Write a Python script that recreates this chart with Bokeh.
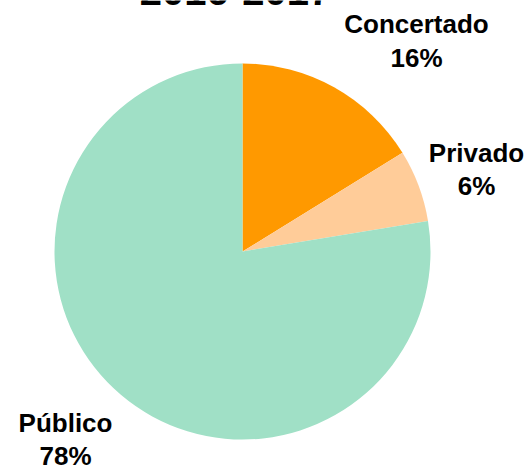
import numpy as np
from bokeh.plotting import figure
from bokeh.models import Range1d, ColumnDataSource
from bokeh.core.properties import value
from bokeh.embed import file_html
from bokeh.resources import INLINE

title = "2016-2017"
categories = ["Concertado", "Privado", "Público"]
shares = [16.2, 6.2, 77.6]
pct_labels = ["16%", "6%", "78%"]
colors = ["#FF9900", "#FFCC99", "#A0E0C6"]

W, H = 531, 468
p = figure(width=W, height=H, output_backend="svg", toolbar_location=None,
           x_range=Range1d(0, W), y_range=Range1d(-H, 0), min_border=0,
           outline_line_color=None, background_fill_color="white")
p.axis.visible = False
p.grid.visible = False

frac = np.array(shares) / sum(shares)
cum = np.concatenate([[0], np.cumsum(frac)])
start = np.pi / 2 - 2 * np.pi * cum[:-1]
end = np.pi / 2 - 2 * np.pi * cum[1:]
src = ColumnDataSource(dict(start=start, end=end, color=colors))
p.wedge(x=242, y=-251, radius=188, radius_units="screen", start_angle="start",
        end_angle="end", direction="clock", fill_color="color", line_color=None, source=src)

# label positions (layout)
lx = [416, 476, 65]
ly_name = [-23, -152, -422]
ly_pct = [-57, -185, -455]
lab = ColumnDataSource(dict(x=lx, yn=ly_name, yp=ly_pct, name=categories, pct=pct_labels))
common = dict(text_font=value("Liberation Sans"), text_font_style="bold",
              text_font_size="26px", text_align="center", text_baseline="alphabetic",
              text_color="black", source=lab)
p.text(x="x", y="yn", text="name", **common)
p.text(x="x", y="yp", text="pct", **common)

p.text(x=[235], y=[10], text=[title], text_font=value("Liberation Sans"),
       text_font_style="bold", text_font_size="40px", text_align="center",
       text_baseline="alphabetic", text_color="black")

open("out.html", "w").write(file_html(p, INLINE))
